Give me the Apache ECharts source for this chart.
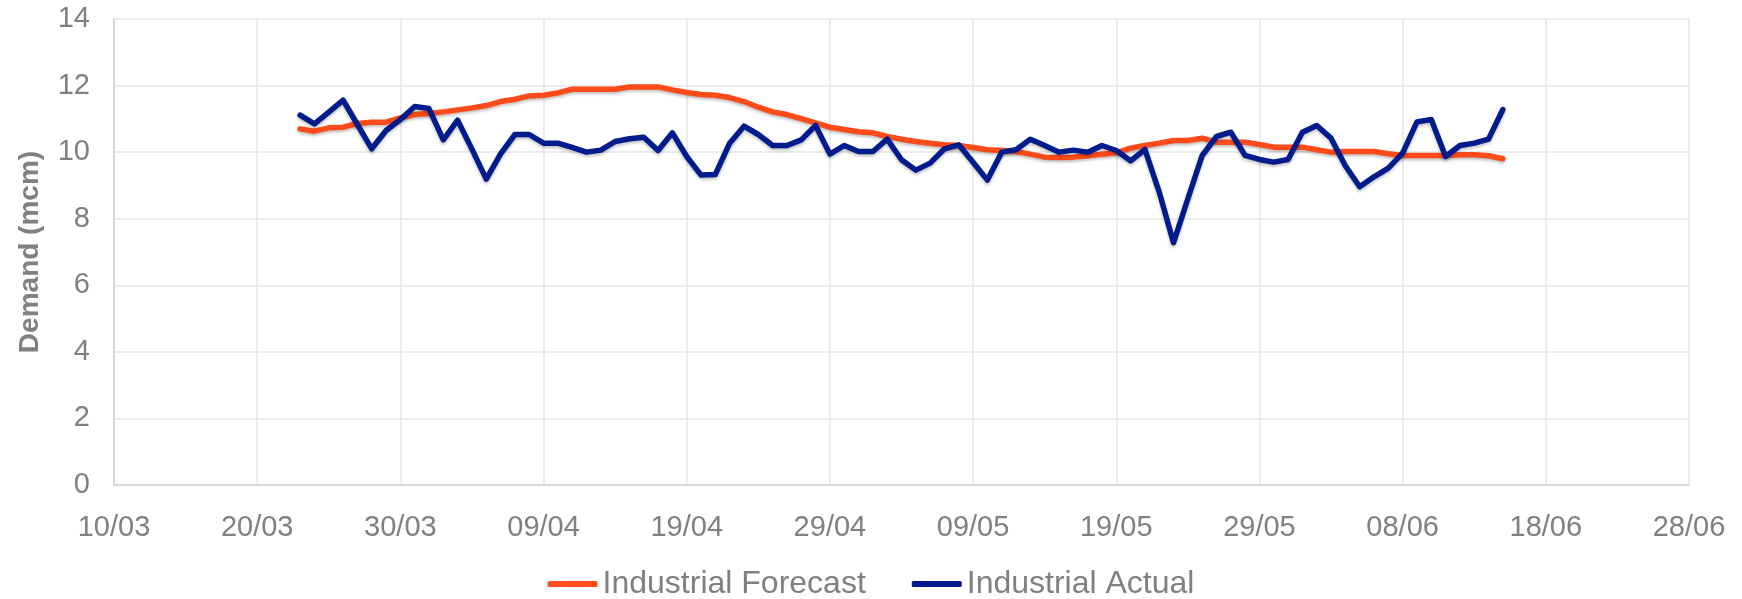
<!DOCTYPE html>
<html>
<head>
<meta charset="utf-8">
<script src="https://cdn.jsdelivr.net/npm/echarts@6/dist/echarts.min.js"></script>
<style>
html,body{margin:0;padding:0;background:#fff;}
#chart{width:1742px;height:599px;}
</style>
</head>
<body>
<div id="chart"></div>
<script>
// Daily observations start on this date, one value per day
const startDate = '2020-03-23';
const seriesNames = ['Industrial Forecast', 'Industrial Actual'];
const forecast = [
  10.70,10.63,10.73,10.75,10.86,10.90,10.90,11.03,11.13,
  11.16,11.21,11.27,11.33,11.40,11.52,11.59,11.69,11.71,11.78,
  11.89,11.89,11.89,11.89,11.96,11.96,11.96,11.87,11.79,11.73,
  11.71,11.64,11.52,11.35,11.21,11.13,11.01,10.88,10.75,10.68,
  10.61,10.58,10.47,10.39,10.32,10.27,10.22,10.20,10.14,10.07,
  10.05,10.02,9.94,9.85,9.84,9.85,9.89,9.94,9.98,10.12,
  10.20,10.27,10.35,10.35,10.42,10.30,10.30,10.30,10.23,10.15,
  10.15,10.15,10.07,10.00,10.02,10.02,10.02,9.95,9.90,9.90,
  9.90,9.90,9.92,9.92,9.89,9.80
];
const actual = [
  11.11,10.85,11.20,11.56,10.83,10.10,10.65,10.98,11.37,
  11.31,10.37,10.96,10.09,9.19,9.95,10.53,10.53,10.27,10.27,
  10.14,10.00,10.06,10.32,10.40,10.45,10.05,10.58,9.87,9.31,
  9.33,10.27,10.78,10.53,10.20,10.20,10.37,10.80,9.94,10.20,
  10.02,10.02,10.39,9.77,9.46,9.67,10.10,10.22,9.70,9.16,
  10.00,10.07,10.39,10.20,10.00,10.06,10.00,10.20,10.05,9.74,
  10.08,8.80,7.28,8.60,9.90,10.47,10.60,9.90,9.78,9.70,
  9.78,10.60,10.80,10.42,9.59,8.96,9.26,9.52,9.97,10.91,
  10.98,9.87,10.20,10.27,10.39,11.28
];
// x-axis: days counted from 29/02/2020, ticks every 10 days from 10/03 to 28/06
const axisBase = Date.UTC(2020, 1, 29);
const xMin = 10, xMax = 120, xStep = 10;
const yMin = 0, yMax = 14, yStep = 2;

const DAY = 86400000;
const p = startDate.split('-').map(Number);
const startDay = (Date.UTC(p[0], p[1] - 1, p[2]) - axisBase) / DAY;
const toPairs = arr => arr.map((v, i) => [startDay + i, v]);
const fmt = v => {
  const d = new Date(axisBase + v * DAY);
  const dd = String(d.getUTCDate()).padStart(2, '0');
  const mm = String(d.getUTCMonth() + 1).padStart(2, '0');
  return dd + '/' + mm;
};

const chart = echarts.init(document.getElementById('chart'), null, {renderer: 'canvas'});
const gray = '#808080';
const font = 'Liberation Sans, Arial, sans-serif';
const lineSeries = (name, data, color) => ({
  name, type: 'line', data, showSymbol: false, symbol: 'none',
  lineStyle: {color, width: 5.5, cap: 'round', join: 'round',
    shadowColor: 'rgba(0,0,0,0.25)', shadowBlur: 3, shadowOffsetY: 2},
  itemStyle: {color},
  animation: false
});
chart.setOption({
  backgroundColor: '#fff',
  animation: false,
  grid: {left: 114, right: 53, top: 19, bottom: 114, containLabel: false},
  legend: {
    top: 563, left: 'center',
    itemWidth: 50, itemHeight: 6, itemGap: 46,
    icon: 'roundRect',
    textStyle: {color: gray, fontSize: 32, fontFamily: font},
    data: seriesNames
  },
  xAxis: {
    type: 'value', min: xMin, max: xMax, interval: xStep,
    axisLine: {show: true, lineStyle: {color: '#d9d9d9', width: 2}},
    axisTick: {show: false},
    axisLabel: {color: gray, fontSize: 29, fontFamily: font, margin: 28, formatter: fmt},
    splitLine: {show: true, lineStyle: {color: '#e6e6e6', width: 1.5}}
  },
  yAxis: {
    type: 'value', min: yMin, max: yMax, interval: yStep,
    name: 'Demand (mcm)', nameLocation: 'middle', nameGap: 70,
    nameTextStyle: {color: gray, fontSize: 28, fontWeight: 'bold', fontFamily: font},
    axisLine: {show: true, lineStyle: {color: '#d9d9d9', width: 2}},
    axisTick: {show: false},
    axisLabel: {color: gray, fontSize: 29, fontFamily: font, margin: 24},
    splitLine: {show: true, lineStyle: {color: '#e6e6e6', width: 1.5}}
  },
  series: [
    lineSeries(seriesNames[0], toPairs(forecast), '#ff4b1a'),
    lineSeries(seriesNames[1], toPairs(actual), '#001c8c')
  ]
});
</script>
</body>
</html>
